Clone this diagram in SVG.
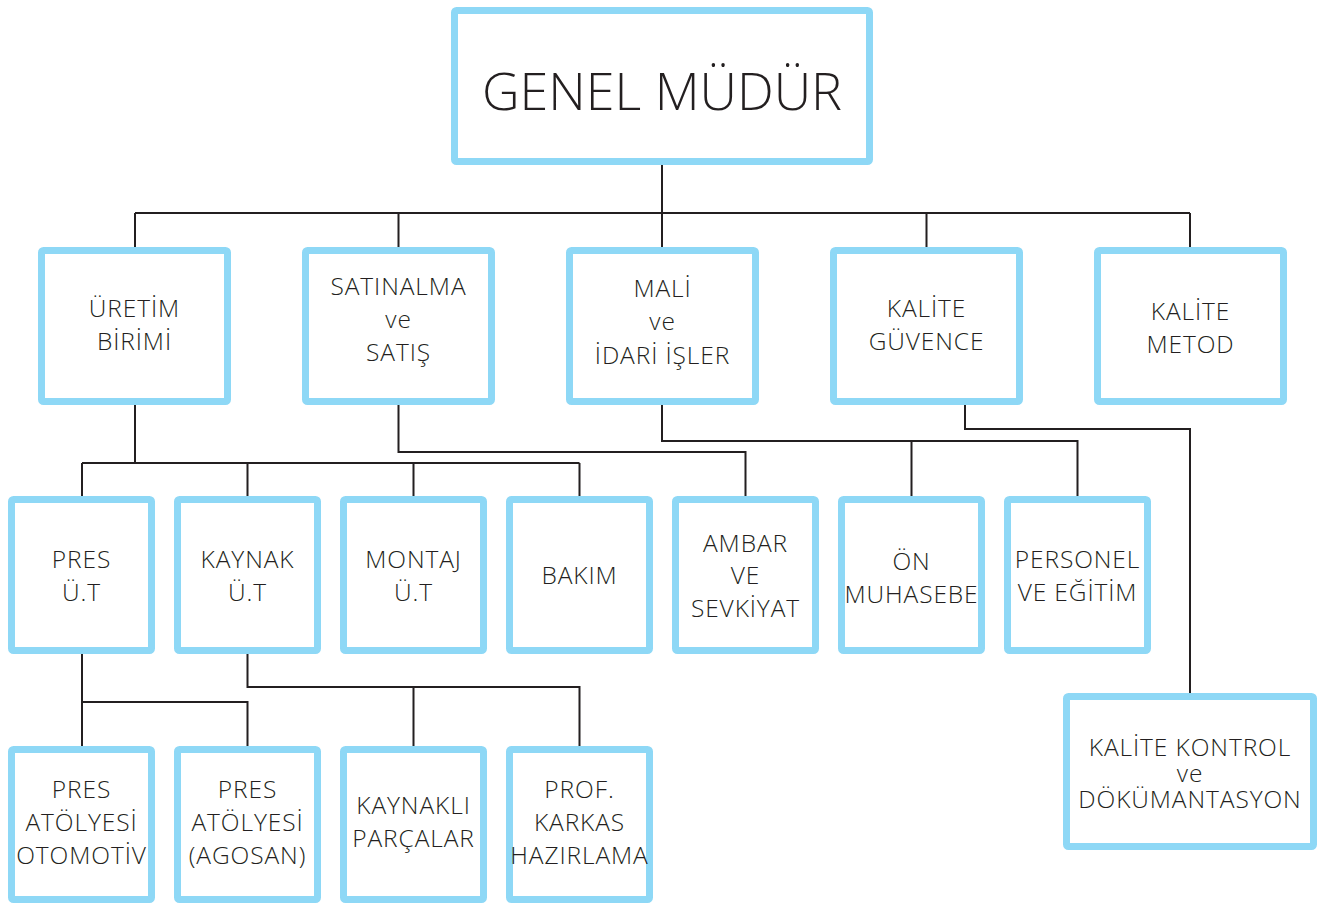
<svg xmlns="http://www.w3.org/2000/svg" width="1319" height="904" viewBox="0 0 1319 904">
<style>
.box{fill:#ffffff;stroke:#8ED8F6;stroke-width:7;}
.t{font-family:"Open Sans","Noto Sans","Liberation Sans",sans-serif;font-weight:300;font-size:24.5px;letter-spacing:0.9px;fill:#231f20;text-anchor:middle;}
.big{font-size:52px;letter-spacing:0;}
.ln{fill:none;stroke:#231f20;stroke-width:2;}
</style>
<rect width="1319" height="904" fill="#ffffff"/>
<g id="connectors">
<path class="ln" d="M662,165 V213 M135,213 H1190 M135,213 V247 M398.5,213 V247 M662,213 V247 M926.5,213 V247 M1190,213 V247"/>
<path class="ln" d="M135,405 V463 M82,463 H579.5 M82,463 V496 M247.5,463 V496 M413.5,463 V496 M579.5,463 V496"/>
<path class="ln" d="M398.5,405 V452 H745.5 V496"/>
<path class="ln" d="M662,405 V441 H1077.5 V496 M911.5,441 V496"/>
<path class="ln" d="M965,405 V429 H1190 V693"/>
<path class="ln" d="M82,654 V746 M82,702 H247.5 V746"/>
<path class="ln" d="M247.5,654 V687 H579.5 V746 M413.5,687 V746"/>
</g>
<g id="genel-mudur">
<rect class="box" x="454.5" y="10.5" width="415" height="151" rx="2"/>
<text class="t big" x="662" y="110">GENEL MÜDÜR</text>
</g>
<g id="uretim-birimi">
<rect class="box" x="41.5" y="250.5" width="186" height="151" rx="2"/>
<text class="t" x="134.5" y="317">ÜRETİM</text>
<text class="t" x="134.5" y="350">BİRİMİ</text>
</g>
<g id="satinalma">
<rect class="box" x="305.5" y="250.5" width="186" height="151" rx="2"/>
<text class="t" x="398.5" y="295">SATINALMA</text>
<text class="t" x="398.5" y="328">ve</text>
<text class="t" x="398.5" y="361">SATIŞ</text>
</g>
<g id="mali-idari">
<rect class="box" x="569.5" y="250.5" width="186" height="151" rx="2"/>
<text class="t" x="662.5" y="297">MALİ</text>
<text class="t" x="662.5" y="330">ve</text>
<text class="t" x="662.5" y="364">İDARİ İŞLER</text>
</g>
<g id="kalite-guvence">
<rect class="box" x="833.5" y="250.5" width="186" height="151" rx="2"/>
<text class="t" x="926.5" y="317">KALİTE</text>
<text class="t" x="926.5" y="350">GÜVENCE</text>
</g>
<g id="kalite-metod">
<rect class="box" x="1097.5" y="250.5" width="186" height="151" rx="2"/>
<text class="t" x="1190.5" y="320">KALİTE</text>
<text class="t" x="1190.5" y="353">METOD</text>
</g>
<g id="pres-ut">
<rect class="box" x="11.5" y="499.5" width="140" height="151" rx="2"/>
<text class="t" x="81.5" y="568">PRES</text>
<text class="t" x="81.5" y="601">Ü.T</text>
</g>
<g id="kaynak-ut">
<rect class="box" x="177.5" y="499.5" width="140" height="151" rx="2"/>
<text class="t" x="247.5" y="568">KAYNAK</text>
<text class="t" x="247.5" y="601">Ü.T</text>
</g>
<g id="montaj-ut">
<rect class="box" x="343.5" y="499.5" width="140" height="151" rx="2"/>
<text class="t" x="413.5" y="568">MONTAJ</text>
<text class="t" x="413.5" y="601">Ü.T</text>
</g>
<g id="bakim">
<rect class="box" x="509.5" y="499.5" width="140" height="151" rx="2"/>
<text class="t" x="579.5" y="584">BAKIM</text>
</g>
<g id="ambar">
<rect class="box" x="675.5" y="499.5" width="140" height="151" rx="2"/>
<text class="t" x="745.5" y="552">AMBAR</text>
<text class="t" x="745.5" y="584">VE</text>
<text class="t" x="745.5" y="617">SEVKİYAT</text>
</g>
<g id="on-muhasebe">
<rect class="box" x="841.5" y="499.5" width="140" height="151" rx="2"/>
<text class="t" x="911.5" y="570">ÖN</text>
<text class="t" x="911.5" y="603">MUHASEBE</text>
</g>
<g id="personel">
<rect class="box" x="1007.5" y="499.5" width="140" height="151" rx="2"/>
<text class="t" x="1077.5" y="568">PERSONEL</text>
<text class="t" x="1077.5" y="601">VE EĞİTİM</text>
</g>
<g id="pres-otomotiv">
<rect class="box" x="11.5" y="749.5" width="140" height="150" rx="2"/>
<text class="t" x="81.5" y="798">PRES</text>
<text class="t" x="81.5" y="831">ATÖLYESİ</text>
<text class="t" x="81.5" y="864">OTOMOTİV</text>
</g>
<g id="pres-agosan">
<rect class="box" x="177.5" y="749.5" width="140" height="150" rx="2"/>
<text class="t" x="247.5" y="798">PRES</text>
<text class="t" x="247.5" y="831">ATÖLYESİ</text>
<text class="t" x="247.5" y="864">(AGOSAN)</text>
</g>
<g id="kaynakli-parcalar">
<rect class="box" x="343.5" y="749.5" width="140" height="150" rx="2"/>
<text class="t" x="413.5" y="814">KAYNAKLI</text>
<text class="t" x="413.5" y="847">PARÇALAR</text>
</g>
<g id="prof-karkas">
<rect class="box" x="509.5" y="749.5" width="140" height="150" rx="2"/>
<text class="t" x="579.5" y="798">PROF.</text>
<text class="t" x="579.5" y="831">KARKAS</text>
<text class="t" x="579.5" y="864">HAZIRLAMA</text>
</g>
<g id="kalite-kontrol">
<rect class="box" x="1066.5" y="696.5" width="247" height="150" rx="2"/>
<text class="t" x="1190" y="756">KALİTE KONTROL</text>
<text class="t" x="1190" y="782">ve</text>
<text class="t" x="1190" y="808">DÖKÜMANTASYON</text>
</g>
</svg>
